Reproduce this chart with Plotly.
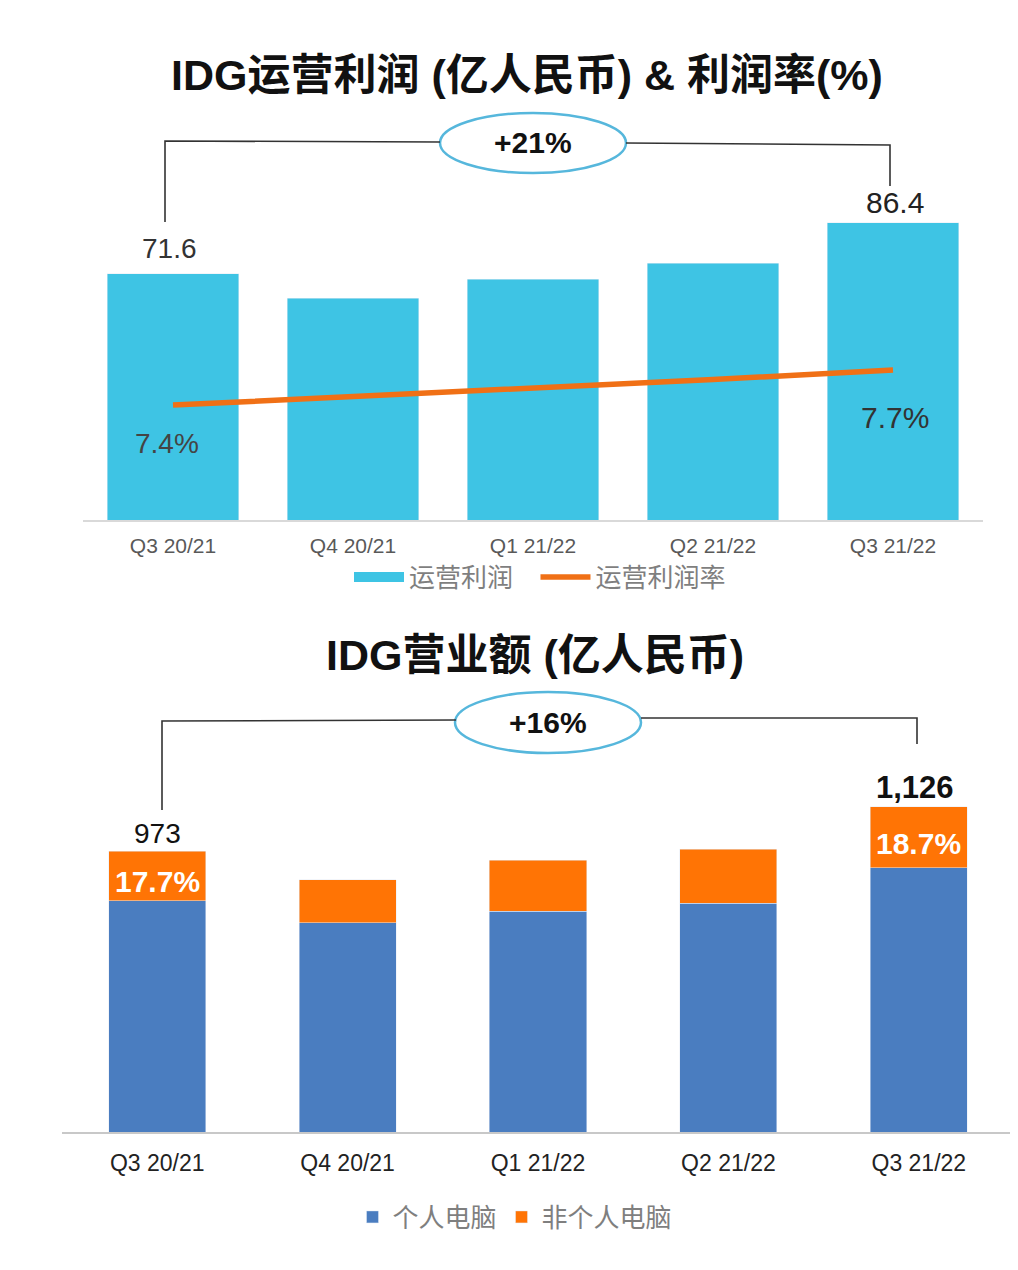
import plotly.graph_objects as go

# data
quarters = ["Q3 20/21", "Q4 20/21", "Q1 21/22", "Q2 21/22", "Q3 21/22"]
op_profit = [71.6, 64.5, 70.0, 74.7, 86.4]          # 亿人民币
op_margin = [7.4, 7.47, 7.55, 7.62, 7.7]            # %
pc_rev = [800.8, 724.0, 765.0, 793.0, 915.4]        # 个人电脑
non_pc_rev = [172.2, 149.0, 177.0, 187.0, 210.6]    # 非个人电脑
profit_growth = "+21%"
revenue_growth = "+16%"

# page has an 8px body margin, so the figure is a bit smaller than the window
OFF = 8
W, H = 1010, 1262
CYAN = "#3EC4E4"
LINE_ORANGE = "#F07016"
BLUE = "#4A7DC0"
ORANGE = "#FF7405"
NARROW = "Liberation Sans Narrow, Arial Narrow, Liberation Sans, sans-serif"
CJK = "Liberation Sans, Noto Sans CJK SC, sans-serif"
GAP = "\u00a0\u00a0\u00a0"   # extra room between legend items


def px(x):
    return (x - OFF) / W


def py(y):
    return 1 - (y - OFF) / H


fig = go.Figure()

# top chart: operating profit + margin
fig.add_trace(go.Bar(x=quarters, y=op_profit, name="运营利润", marker_color=CYAN,
                     width=0.73, xaxis="x", yaxis="y", showlegend=False))
# legend proxy so the swatch is a wide block like the original
fig.add_trace(go.Scatter(x=[None], y=[None], name="运营利润" + GAP, mode="lines",
                         line=dict(color=CYAN, width=18), xaxis="x", yaxis="y", legend="legend"))
fig.add_trace(go.Scatter(x=quarters, y=op_margin, name="运营利润率", mode="lines",
                         line=dict(color=LINE_ORANGE, width=5.5),
                         xaxis="x", yaxis="y2", legend="legend"))

# bottom chart: revenue split
fig.add_trace(go.Bar(x=quarters, y=pc_rev, name="个人电脑", marker_color=BLUE,
                     width=0.51, xaxis="x3", yaxis="y3", legend="legend2"))
fig.add_trace(go.Bar(x=quarters, y=non_pc_rev, name="非个人电脑", marker_color=ORANGE,
                     width=0.51, xaxis="x3", yaxis="y3", legend="legend2"))

totals = [a + b for a, b in zip(pc_rev, non_pc_rev)]
shares = [b / t * 100 for b, t in zip(non_pc_rev, totals)]

ann = []
# titles
ann.append(dict(text="<b>IDG运营利润 (亿人民币) & 利润率(%)</b>", x=px(527), y=py(75),
                xref="paper", yref="paper", yanchor="middle", showarrow=False,
                font=dict(size=43, color="#111", family=CJK)))
ann.append(dict(text="<b>IDG营业额 (亿人民币)</b>", x=px(535), y=py(655),
                xref="paper", yref="paper", yanchor="middle", showarrow=False,
                font=dict(size=43, color="#111", family=CJK)))

# value labels, top chart
ann.append(dict(text=f"{op_profit[0]:.1f}", x=quarters[0], y=op_profit[0], xref="x", yref="y",
                yanchor="bottom", yshift=8, xshift=-4, showarrow=False,
                font=dict(size=28, color="#333", family=NARROW)))
ann.append(dict(text=f"{op_profit[-1]:.1f}", x=quarters[-1], y=op_profit[-1], xref="x", yref="y",
                yanchor="bottom", yshift=2, xshift=2, showarrow=False,
                font=dict(size=30, color="#222", family=NARROW)))
ann.append(dict(text=f"{op_margin[0]:.1f}%", x=quarters[0], y=op_margin[0], xref="x", yref="y2",
                yanchor="top", yshift=-21, xshift=-6, showarrow=False,
                font=dict(size=28, color="#444", family=NARROW)))
ann.append(dict(text=f"{op_margin[-1]:.1f}%", x=quarters[-1], y=op_margin[-1], xref="x", yref="y2",
                yanchor="top", yshift=-29, xshift=2, showarrow=False,
                font=dict(size=30, color="#333", family=NARROW)))
ann.append(dict(text=f"<b>{profit_growth}</b>", x=px(533), y=py(143), xref="paper", yref="paper",
                yanchor="middle", showarrow=False, font=dict(size=30, color="#111", family=NARROW)))

# value labels, bottom chart
ann.append(dict(text=f"{totals[0]:,.0f}", x=quarters[0], y=totals[0], xref="x3", yref="y3",
                yanchor="bottom", yshift=0, showarrow=False,
                font=dict(size=28, color="#111", family=NARROW)))
ann.append(dict(text=f"<b>{totals[-1]:,.0f}</b>", x=quarters[-1], y=totals[-1], xref="x3", yref="y3",
                yanchor="bottom", yshift=0, xshift=-4, showarrow=False,
                font=dict(size=31, color="#111", family=NARROW)))
for i in (0, len(quarters) - 1):
    ann.append(dict(text=f"<b>{shares[i]:.1f}%</b>", x=quarters[i], y=pc_rev[i] + non_pc_rev[i] / 2,
                    xref="x3", yref="y3", yanchor="middle", yshift=-6, showarrow=False,
                    font=dict(size=30, color="white", family=NARROW)))
ann.append(dict(text=f"<b>{revenue_growth}</b>", x=px(548), y=py(722), xref="paper", yref="paper",
                yanchor="middle", showarrow=False, font=dict(size=30, color="#111", family=NARROW)))


# brackets + ellipses
def path(points):
    return "M " + " L ".join(f"{px(a)},{py(b)}" for a, b in points)


BRACKET = dict(color="#333", width=1.6)
ELLIPSE = dict(color="#56B7DC", width=2.5)
shapes = [
    dict(type="path", path=path([(165, 222), (165, 141), (440, 142)]), xref="paper", yref="paper",
         line=BRACKET),
    dict(type="path", path=path([(626, 143), (890, 145), (890, 186)]), xref="paper", yref="paper",
         line=BRACKET),
    dict(type="circle", x0=px(440), x1=px(626), y0=py(113), y1=py(173), xref="paper", yref="paper",
         line=ELLIPSE, fillcolor="white", layer="below"),
    dict(type="path", path=path([(162, 810), (162, 721), (456, 720)]), xref="paper", yref="paper",
         line=BRACKET),
    dict(type="path", path=path([(641, 718), (917, 718), (917, 744)]), xref="paper", yref="paper",
         line=BRACKET),
    dict(type="circle", x0=px(455), x1=px(641), y0=py(692), y1=py(753), xref="paper", yref="paper",
         line=ELLIPSE, fillcolor="white", layer="below"),
]

fig.update_layout(
    width=W, height=H,
    margin=dict(l=0, r=0, t=0, b=0),
    paper_bgcolor="white", plot_bgcolor="white",
    barmode="stack",
    annotations=ann,
    shapes=shapes,
    xaxis=dict(domain=[px(83), px(983)], anchor="y", showline=True, linecolor="#D9D9D9",
               linewidth=1.5, ticks="", showgrid=False, ticklabelstandoff=6,
               tickfont=dict(size=21, color="#595959", family=NARROW)),
    yaxis=dict(domain=[py(520), py(180)], range=[0, 340 / 3.44], visible=False),
    yaxis2=dict(overlaying="y", range=[6.415, 9.33], visible=False),
    xaxis3=dict(domain=[px(62), px(1014)], anchor="y3", showline=True, linecolor="#C8C8C8",
                linewidth=1.5, ticks="", showgrid=False, ticklabelstandoff=10,
                tickfont=dict(size=23, color="#222", family=NARROW)),
    yaxis3=dict(domain=[py(1132), py(750)], range=[0, 382 / 0.2887], visible=False),
    legend=dict(orientation="h", x=px(540), xanchor="center", y=py(577), yanchor="middle",
                font=dict(size=26, color="#7F7F7F", family="Noto Sans CJK SC"),
                itemwidth=50, traceorder="normal", bgcolor="rgba(0,0,0,0)"),
    legend2=dict(orientation="h", x=px(515), xanchor="center", y=py(1217), yanchor="middle",
                 font=dict(size=26, color="#7F7F7F", family="Noto Sans CJK SC"),
                 itemwidth=30, traceorder="normal", bgcolor="rgba(0,0,0,0)"),
)

fig.write_html("out.html")
